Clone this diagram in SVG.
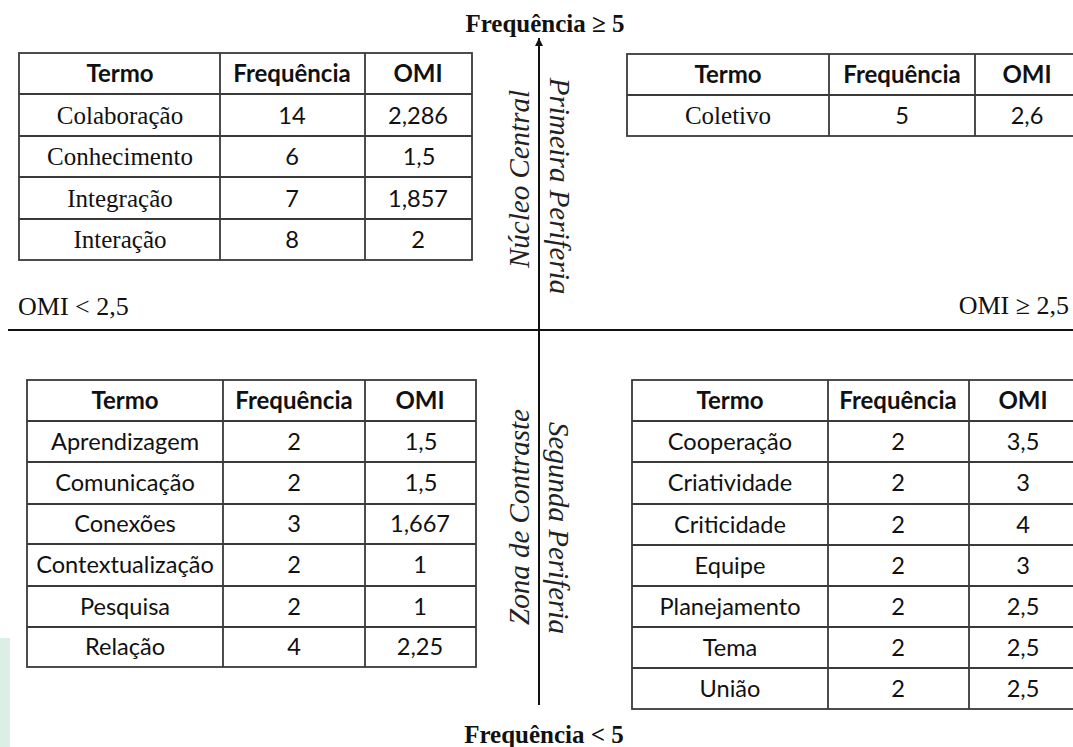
<svg xmlns="http://www.w3.org/2000/svg" width="1073" height="747" viewBox="0 0 1073 747">
<style>
.cell{fill:none;stroke:#3a3a3a;stroke-width:1.8}
.h{font-family:Lato,"Liberation Sans",sans-serif;font-weight:bold;font-size:24px;fill:#111;text-anchor:middle}
.s{font-family:Lato,"Liberation Sans",sans-serif;font-size:23.6px;fill:#111;text-anchor:middle}
.t{font-family:"Liberation Serif",serif;font-size:25px;fill:#111;text-anchor:middle}
.ax{font-family:"Liberation Serif",serif;font-size:26px;fill:#111}
.axb{font-family:"Liberation Serif",serif;font-weight:bold;font-size:25px;fill:#111;text-anchor:middle}
.rot{font-family:"Liberation Serif",serif;font-style:italic;font-size:29px;fill:#222;text-anchor:middle}
.line{stroke:#111;stroke-width:2;fill:none}
</style>
<defs>
<marker id="arr" viewBox="0 0 10 10" refX="10" refY="5" markerWidth="4" markerHeight="4" orient="auto" markerUnits="strokeWidth">
<path d="M0,0 L10,5 L0,10 z" fill="#111"/>
</marker>
</defs>
<rect width="1073" height="747" fill="#fff"/>
<rect x="0" y="638" width="10" height="109" fill="#dcefe4"/>

<g id="axes">
<line class="line" x1="8" y1="330" x2="1073" y2="330"/>
<line class="line" x1="539" y1="705" x2="539" y2="38" marker-end="url(#arr)"/>
</g>

<g id="axis-labels">
<text class="axb" x="545" y="32">Frequência ≥ 5</text>
<text class="axb" x="544" y="743">Frequência &lt; 5</text>
<text class="ax" x="18" y="315">OMI &lt; 2,5</text>
<text class="ax" x="1069" y="314" text-anchor="end">OMI ≥ 2,5</text>
<text class="rot" transform="translate(529,179) rotate(-90)">Núcleo  Central</text>
<text class="rot" transform="translate(550,186) rotate(90)">Primeira Periferia</text>
<text class="rot" transform="translate(529,517) rotate(-90)">Zona de  Contraste</text>
<text class="rot" transform="translate(549,528) rotate(90)">Segunda Periferia</text>
</g>

<g id="table-nucleo-central">
<rect class="cell" x="19" y="53" width="453" height="207"/>
<path class="cell" d="M220,53V260M365,53V260M19,94H472M19,136H472M19,177H472M19,219H472"/>
<text class="h" x="120" y="82">Termo</text><text class="h" x="292" y="82">Frequência</text><text class="h" x="418" y="82">OMI</text>
<text class="t" x="120" y="124">Colaboração</text><text class="s" x="292" y="124">14</text><text class="s" x="418" y="124">2,286</text>
<text class="t" x="120" y="165">Conhecimento</text><text class="s" x="292" y="165">6</text><text class="s" x="419" y="165">1,5</text>
<text class="t" x="120" y="207">Integração</text><text class="s" x="292" y="207">7</text><text class="s" x="418" y="207">1,857</text>
<text class="t" x="120" y="248">Interação</text><text class="s" x="292" y="248">8</text><text class="s" x="418" y="248">2</text>
</g>

<g id="table-primeira-periferia">
<rect class="cell" x="627" y="54" width="460" height="82"/>
<path class="cell" d="M829,54V136M975,54V136M627,95H1087"/>
<text class="h" x="728" y="83">Termo</text><text class="h" x="902" y="83">Frequência</text><text class="h" x="1027" y="83">OMI</text>
<text class="t" x="728" y="124">Coletivo</text><text class="s" x="902" y="124">5</text><text class="s" x="1027" y="124">2,6</text>
</g>

<g id="table-zona-contraste">
<rect class="cell" x="27" y="380" width="449" height="287"/>
<path class="cell" d="M223,380V667M365,380V667M27,421H476M27,462H476M27,504H476M27,544H476M27,586H476M27,627H476"/>
<text class="h" x="125" y="409">Termo</text><text class="h" x="294" y="409">Frequência</text><text class="h" x="420" y="409">OMI</text>
<text class="s" x="125" y="450">Aprendizagem</text><text class="s" x="294" y="450">2</text><text class="s" x="421" y="450">1,5</text>
<text class="s" x="125" y="491">Comunicação</text><text class="s" x="294" y="491">2</text><text class="s" x="421" y="491">1,5</text>
<text class="s" x="125" y="532">Conexões</text><text class="s" x="294" y="532">3</text><text class="s" x="420" y="532">1,667</text>
<text class="s" x="125" y="573">Contextualização</text><text class="s" x="294" y="573">2</text><text class="s" x="420" y="573">1</text>
<text class="s" x="125" y="615">Pesquisa</text><text class="s" x="294" y="615">2</text><text class="s" x="420" y="615">1</text>
<text class="s" x="125" y="655">Relação</text><text class="s" x="294" y="655">4</text><text class="s" x="420" y="655">2,25</text>
</g>

<g id="table-segunda-periferia">
<rect class="cell" x="632" y="380" width="455" height="329"/>
<path class="cell" d="M828,380V709M969,380V709M632,421H1087M632,462H1087M632,504H1087M632,545H1087M632,586H1087M632,627H1087M632,668H1087"/>
<text class="h" x="730" y="409">Termo</text><text class="h" x="898" y="409">Frequência</text><text class="h" x="1023" y="409">OMI</text>
<text class="s" x="730" y="450">Cooperação</text><text class="s" x="898" y="450">2</text><text class="s" x="1023" y="450">3,5</text>
<text class="s" x="730" y="491">Criatividade</text><text class="s" x="898" y="491">2</text><text class="s" x="1023" y="491">3</text>
<text class="s" x="730" y="533">Criticidade</text><text class="s" x="898" y="533">2</text><text class="s" x="1023" y="533">4</text>
<text class="s" x="730" y="574">Equipe</text><text class="s" x="898" y="574">2</text><text class="s" x="1023" y="574">3</text>
<text class="s" x="730" y="615">Planejamento</text><text class="s" x="898" y="615">2</text><text class="s" x="1023" y="615">2,5</text>
<text class="s" x="730" y="656">Tema</text><text class="s" x="898" y="656">2</text><text class="s" x="1023" y="656">2,5</text>
<text class="s" x="730" y="697">União</text><text class="s" x="898" y="697">2</text><text class="s" x="1023" y="697">2,5</text>
</g>
</svg>
